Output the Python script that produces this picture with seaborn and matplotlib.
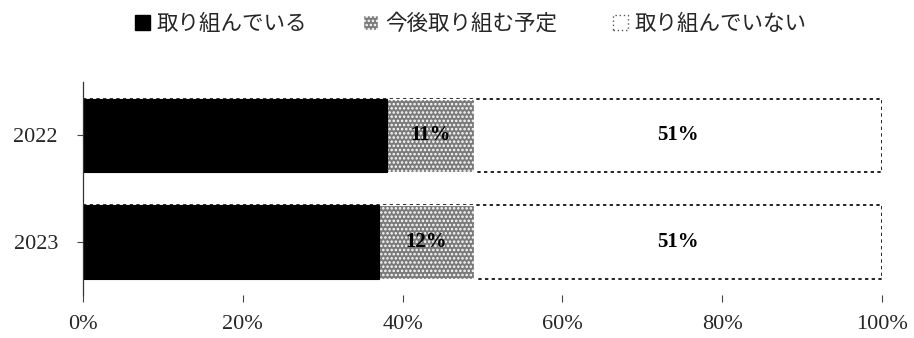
import matplotlib
matplotlib.use("Agg")
import matplotlib.pyplot as plt
from matplotlib.patches import Patch
import numpy as np
import pandas as pd
import seaborn as sns

# Survey shares per year (percent)
years = ["2022", "2023"]
doing = [38, 37]          # 取り組んでいる
planned = [11, 12]        # 今後取り組む予定
not_doing = [51, 51]      # 取り組んでいない
series_names = ["取り組んでいる", "今後取り組む予定", "取り組んでいない"]
xtick_values = [0, 20, 40, 60, 80, 100]

sns.set_theme(style="white")
plt.rcParams["font.family"] = ["Liberation Serif", "Noto Sans CJK JP", "DejaVu Sans"]
plt.rcParams["hatch.linewidth"] = 1.2

doing_a = np.array(doing)
planned_a = np.array(planned)
not_a = np.array(not_doing)
df = pd.DataFrame({
    "year": years,
    "end_doing": doing_a,
    "end_planned": doing_a + planned_a,
    "end_total": doing_a + planned_a + not_a,
})

fig = plt.figure(figsize=(9.14, 3.38), dpi=100)
ax = fig.add_axes([0.0908, 0.127, 0.874, 0.630])

bar_w = 0.69
# Stacked horizontally by overdrawing cumulative totals, widest first
sns.barplot(data=df, x="end_total", y="year", orient="h", color="white",
            edgecolor="black", linewidth=1.2, linestyle=(0, (2, 2)),
            width=bar_w, ax=ax, saturation=1)
n0 = len(ax.patches)
sns.barplot(data=df, x="end_planned", y="year", orient="h", color="#7a7a7a",
            edgecolor="black", linewidth=0.8, width=bar_w, ax=ax, saturation=1)
for p in ax.patches[n0:]:
    p.set_hatch("....")
    p.set_edgecolor("white")
n1 = len(ax.patches)
sns.barplot(data=df, x="end_doing", y="year", orient="h", color="black",
            edgecolor="black", linewidth=0.8, width=bar_w, ax=ax, saturation=1)
for p in ax.patches[n1:]:
    p.set_hatch(None)

# Value labels for the two lighter segments
for i in range(len(years)):
    mid_x = doing_a[i] + planned_a[i] / 2
    ax.text(mid_x, i, f"{planned[i]}%", ha="center", va="center",
            fontsize=15, fontweight="bold", color="black")
    right_x = doing_a[i] + planned_a[i] + not_a[i] / 2
    ax.text(right_x, i, f"{not_doing[i]}%", ha="center", va="center",
            fontsize=15, fontweight="bold", color="black")

ax.set_xlim(0, 100)
ax.set_ylim(1.5, -0.5)
ax.set_xticks(xtick_values)
ax.set_xticklabels([f"{v}%" for v in xtick_values])
ax.set_xlabel("")
ax.set_ylabel("")
ax.tick_params(axis="x", labelsize=16, length=5, width=0.8, color="#444444",
               direction="out", pad=9, bottom=True)
ax.tick_params(axis="y", labelsize=16, length=4, width=0.8, color="#444444",
               direction="out", pad=14, left=True)
for side in ["top", "right", "bottom"]:
    ax.spines[side].set_visible(False)
ax.spines["left"].set_color("#333333")
ax.spines["left"].set_linewidth(0.9)

handles = [
    Patch(facecolor="black", edgecolor="black", label=series_names[0]),
    Patch(facecolor="#7a7a7a", edgecolor="white", hatch="....", label=series_names[1]),
    Patch(facecolor="white", edgecolor="#555555", linestyle=(0, (1, 2)), label=series_names[2]),
]
fig.legend(handles=handles, loc="center", bbox_to_anchor=(0.515, 0.93), ncol=3,
           frameon=False, handlelength=0.7, handleheight=0.7, handletextpad=0.3,
           columnspacing=2.6, prop={"family": ["Noto Sans CJK JP"], "size": 15.5})

fig.savefig("out.png", dpi=100)
